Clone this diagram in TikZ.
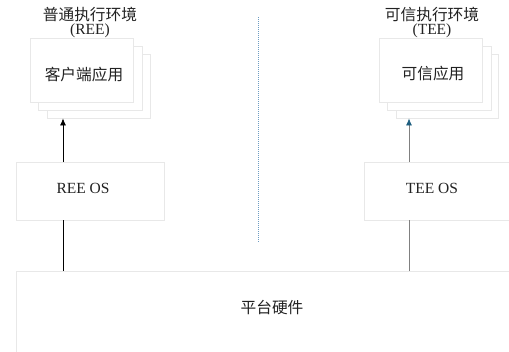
\documentclass[tikz,border=0pt]{standalone}
\usepackage{fontspec}
\setmainfont{Liberation Serif}
\newfontfamily\cjk{Noto Sans CJK SC}
\usetikzlibrary{arrows.meta}
\definecolor{boxline}{HTML}{E8E8E8}
\definecolor{dotblue}{HTML}{6E9CC2}
\definecolor{teal}{HTML}{1F5F80}
\definecolor{txt}{HTML}{222222}
\tikzset{
  panel/.style={draw=boxline, line width=0.8pt, fill=white, inner sep=0pt},
  lbl/.style={inner sep=0pt, text=txt, font=\fontsize{15.5}{16}\selectfont},
  cjklbl/.style={lbl, font=\fontsize{15.7}{16}\selectfont\cjk},
  conn/.style={line width=0.8pt},
}
\begin{document}
\begin{tikzpicture}[x=1pt,y=-1pt]
\useasboundingbox (0,0) rectangle (509,351);
\clip (0,0) rectangle (509,351);
% left stack
\node[panel, minimum width=103pt, minimum height=64pt] (lback) at (98.5,86) {};
\node[panel, minimum width=104pt, minimum height=64pt] (lmid) at (90,78) {};
\node[panel, minimum width=103pt, minimum height=64pt] (lfront) at (81.5,70) {};
\node[cjklbl] (ltxt) at (84,75) {客户端应用};
% right stack
\node[panel, minimum width=102pt, minimum height=64pt] (rback) at (447,86) {};
\node[panel, minimum width=104pt, minimum height=64pt] (rmid) at (439,78) {};
\node[panel, minimum width=103pt, minimum height=64pt] (rfront) at (430.5,70) {};
\node[cjklbl] (rtxt) at (433,74) {可信应用};
% titles
\node[cjklbl] (ltitle) at (90,15) {普通执行环境};
\node[lbl] (lsub) at (90,31) {(REE)};
\node[cjklbl] (rtitle) at (432,15) {可信执行环境};
\node[lbl] (rsub) at (432,31) {(TEE)};
% OS boxes
\node[panel, minimum width=148pt, minimum height=58pt] (reeos) at (90,191) {};
\node[lbl] (reetxt) at (83,188) {REE OS};
\node[panel, minimum width=160pt, minimum height=58pt] (teeos) at (444,191) {};
\node[lbl] (teetxt) at (432,188) {TEE OS};
% hardware
\node[panel, minimum width=510pt, minimum height=100pt] (hw) at (271,321) {};
\node[cjklbl] (hwtxt) at (272,308) {平台硬件};
% divider
\coordinate (dtop) at (258,17);
\coordinate (dbot) at (258,242);
\draw[dotblue, line width=1pt, dash pattern=on 1pt off 1pt] (dtop) -- (dbot);
% connectors
\coordinate (la) at (63,0);
\coordinate (ra) at (409,0);
\draw[conn, black] (la |- hw.north) -- (la |- reeos.south);
\draw[conn, black, -{Latex[length=7pt,width=6pt]}] (la |- reeos.north) -- (la |- lback.south);
\draw[conn, gray] (ra |- hw.north) -- (ra |- teeos.south);
\draw[conn, gray, -{Latex[length=7pt,width=6pt,fill=teal,color=teal]}] (ra |- teeos.north) -- (ra |- rback.south);
\end{tikzpicture}
\end{document}
